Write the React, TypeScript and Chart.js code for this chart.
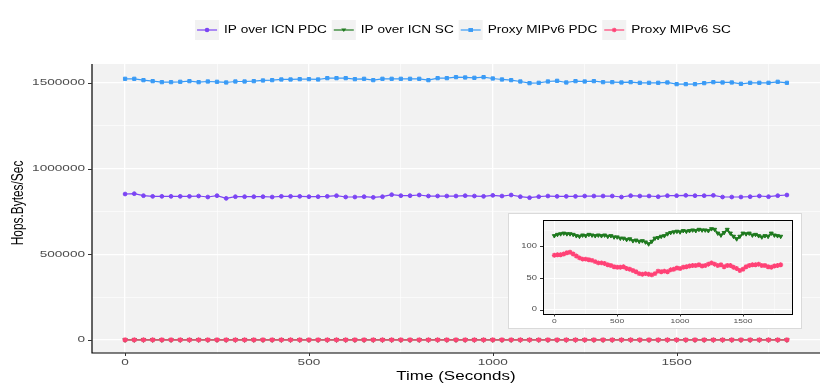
import React, { useEffect, useRef } from "react";
import { Chart, registerables } from "chart.js";
Chart.register(...registerables);

const timeSeconds = [
  0, 25, 50, 75, 100, 125, 150, 175, 200, 225,
  250, 275, 300, 325, 350, 375, 400, 425, 450, 475,
  500, 525, 550, 575, 600, 625, 650, 675, 700, 725,
  750, 775, 800, 825, 850, 875, 900, 925, 950, 975,
  1000, 1025, 1050, 1075, 1100, 1125, 1150, 1175, 1200, 1225,
  1250, 1275, 1300, 1325, 1350, 1375, 1400, 1425, 1450, 1475,
  1500, 1525, 1550, 1575, 1600, 1625, 1650, 1675, 1700, 1725,
  1750, 1775, 1800,
];

const ipIcnPdc = [
  851200, 853100, 841500, 837600, 837600, 837600, 837600, 837600, 839500, 833700,
  841500, 825900, 835600, 835600, 835600, 835600, 833700, 837600, 837600, 837600,
  835600, 835600, 837600, 841500, 833700, 833700, 835600, 831700, 835600, 847300,
  841500, 841500, 845400, 839500, 839500, 839500, 839500, 841500, 839500, 837600,
  843400, 839500, 845400, 835600, 829800, 835600, 839500, 837600, 837600, 837600,
  839500, 839500, 839500, 839500, 833700, 841500, 839500, 839500, 835600, 841500,
  841500, 843400, 841500, 841500, 843400, 833700, 833700, 833700, 835600, 839500,
  835600, 841500, 845400,
];

const ipIcnSc = [
  117, 119, 120, 121, 120, 120, 119, 117, 116, 118,
  117, 119, 118, 117, 118, 117, 118, 116, 117, 115,
  115, 113, 113, 111, 112, 109, 110, 108, 109, 107,
  104, 108, 113, 114, 116, 117, 120, 122, 123, 124,
  123, 125, 124, 125, 126, 125, 127, 126, 126, 125,
  128, 127, 121, 118, 122, 127, 121, 116, 112, 116,
  121, 120, 121, 118, 119, 117, 115, 117, 116, 121,
  118, 117, 116,
];

const proxyPdc = [
  1523600, 1523600, 1515800, 1510000, 1504100, 1504100, 1506100, 1510000, 1504100, 1508000,
  1506100, 1502200, 1508000, 1508000, 1510000, 1513900, 1515800, 1519700, 1519700, 1521600,
  1521600, 1519700, 1527500, 1527500, 1527500, 1521600, 1523600, 1515800, 1523600, 1523600,
  1523600, 1523600, 1523600, 1515800, 1527500, 1527500, 1533300, 1531400, 1529400, 1533300,
  1525500, 1519700, 1515800, 1508000, 1498300, 1500200, 1508000, 1511900, 1502200, 1510000,
  1508000, 1510000, 1504100, 1504100, 1502200, 1504100, 1500200, 1500200, 1500200, 1502200,
  1492500, 1492500, 1492500, 1498300, 1504100, 1502200, 1502200, 1494400, 1500200, 1500200,
  1500200, 1506100, 1500200,
];

const proxySc = [
  86, 87, 87, 88, 90, 91, 88, 85, 82, 80,
  80, 79, 78, 76, 74, 74, 73, 71, 70, 68,
  67, 67, 68, 65, 64, 62, 60, 57, 56, 57,
  56, 55, 57, 61, 60, 61, 60, 63, 64, 66,
  65, 67, 68, 69, 70, 70, 71, 69, 70, 72,
  74, 72, 70, 71, 68, 70, 70, 67, 65, 62,
  64, 68, 70, 71, 71, 72, 70, 70, 68, 67,
  69, 70, 71,
];

const seriesNames = ["IP over ICN PDC", "IP over ICN SC", "Proxy MIPv6 PDC", "Proxy MIPv6 SC"];
const seriesColors = ["#7C45F4", "#1F7A1F", "#3A9BF6", "#FF4276"];
const seriesMarkers = ["circle", "triangleDown", "rect", "star"];

const mainXMajor = [0, 500, 1000, 1500];
const mainXMinor = [250, 750, 1250, 1750];
const mainXLabels = ["0", "500", "1000", "1500"];
const mainYMajor = [0, 500000, 1000000, 1500000];
const mainYMinor = [250000, 750000, 1250000];
const mainYLabels = ["0", "500000", "1000000", "1500000"];

const insetXMajor = [0, 500, 1000, 1500];
const insetXMinor = [250, 750, 1250, 1750];
const insetXLabels = ["0", "500", "1000", "1500"];
const insetYMajor = [0, 50, 100];
const insetYMinor = [25, 75, 125];
const insetYLabels = ["0", "50", "100"];

const xTitle = "Time (Seconds)";
const yTitle = "Hops.Bytes/Sec";

const FONT = '"Liberation Sans", Arial, Helvetica, sans-serif';
const PANEL_BG = "#F2F2F2";
const SQUASH = 0.7;

function drawLabel(
  ctx: CanvasRenderingContext2D,
  text: string,
  x: number,
  y: number,
  size: number,
  color: string,
  align: CanvasTextAlign,
  squash: number,
  rotate = false
) {
  ctx.save();
  ctx.translate(x, y);
  if (rotate) {
    ctx.rotate(-Math.PI / 2);
    ctx.scale(squash, 1);
  } else {
    ctx.scale(1, squash);
  }
  ctx.font = `${size}px ${FONT}`;
  ctx.fillStyle = color;
  ctx.textAlign = align;
  ctx.textBaseline = "middle";
  ctx.fillText(text, 0, 0);
  ctx.restore();
}

function drawMarker(ctx: CanvasRenderingContext2D, style: string, x: number, y: number, r: number, color: string) {
  ctx.save();
  ctx.fillStyle = color;
  ctx.strokeStyle = color;
  ctx.lineWidth = 1.1;
  ctx.beginPath();
  if (style === "circle") {
    ctx.arc(x, y, r, 0, Math.PI * 2);
    ctx.fill();
  } else if (style === "rect") {
    ctx.rect(x - r, y - r * 0.85, 2 * r, 1.7 * r);
    ctx.fill();
  } else if (style === "triangleDown") {
    ctx.moveTo(x - r * 1.1, y - r * 0.7);
    ctx.lineTo(x + r * 1.1, y - r * 0.7);
    ctx.lineTo(x, y + r * 0.9);
    ctx.closePath();
    ctx.fill();
  } else {
    for (let k = 0; k < 4; k++) {
      const a = (k * Math.PI) / 4;
      ctx.moveTo(x - Math.cos(a) * r, y - Math.sin(a) * r);
      ctx.lineTo(x + Math.cos(a) * r, y + Math.sin(a) * r);
    }
    ctx.stroke();
  }
  ctx.restore();
}

function pairs(vals: number[]) {
  return timeSeconds.map((t, i) => ({ x: t, y: vals[i] }));
}

function styleFor(idx: number, scale: number, lineW: number) {
  const m = seriesMarkers[idx];
  const base: any = {
    borderColor: seriesColors[idx],
    backgroundColor: seriesColors[idx],
    pointBackgroundColor: seriesColors[idx],
    pointBorderColor: seriesColors[idx],
    borderWidth: lineW,
    tension: 0,
  };
  if (m === "circle") Object.assign(base, { pointStyle: "circle", pointRadius: 1.8 * scale, pointBorderWidth: 1 });
  if (m === "rect") Object.assign(base, { pointStyle: "rect", pointRadius: 2.2 * scale, pointBorderWidth: 1 });
  if (m === "triangleDown")
    Object.assign(base, { pointStyle: "triangle", pointRotation: 180, pointRadius: 2.4 * scale, pointBorderWidth: 1 });
  if (m === "star") Object.assign(base, { pointStyle: "star", pointRadius: 2.6 * scale, pointBorderWidth: 1.3 });
  return base;
}

function gridScale(min: number, max: number, major: number[], minor: number[], majorW: number, minorW: number) {
  const all = [...major, ...minor].sort((a, b) => a - b);
  return {
    type: "linear" as const,
    min,
    max,
    afterBuildTicks: (scale: any) => {
      scale.ticks = all.map((v) => ({ value: v }));
    },
    ticks: { display: false },
    border: { display: false },
    grid: {
      color: "#FFFFFF",
      drawTicks: false,
      lineWidth: (c: any) => (major.includes(c.tick?.value) ? majorW : minorW),
    },
  };
}

const mainDecor = {
  id: "mainDecor",
  beforeDraw(chart: any) {
    const { ctx, chartArea: a } = chart;
    ctx.save();
    ctx.fillStyle = "#FFFFFF";
    ctx.fillRect(0, 0, chart.width, chart.height);
    ctx.fillStyle = PANEL_BG;
    ctx.fillRect(a.left, a.top, a.right - a.left, a.bottom - a.top);
    ctx.restore();
  },
  afterDraw(chart: any) {
    const { ctx, chartArea: a, scales } = chart;
    const x = scales.x;
    const y = scales.y;
    ctx.save();
    ctx.strokeStyle = "#000000";
    ctx.lineWidth = 1.2;
    ctx.beginPath();
    ctx.moveTo(a.left, a.top);
    ctx.lineTo(a.left, a.bottom);
    ctx.lineTo(a.right, a.bottom);
    ctx.stroke();
    ctx.strokeStyle = "#333333";
    ctx.lineWidth = 1;
    ctx.beginPath();
    mainYMajor.forEach((v) => {
      const py = Math.round(y.getPixelForValue(v)) + 0.5;
      ctx.moveTo(a.left - 4, py);
      ctx.lineTo(a.left, py);
    });
    mainXMajor.forEach((v) => {
      const px = Math.round(x.getPixelForValue(v)) + 0.5;
      ctx.moveTo(px, a.bottom);
      ctx.lineTo(px, a.bottom + 3);
    });
    ctx.stroke();
    ctx.restore();

    mainYMajor.forEach((v, i) => {
      drawLabel(ctx, mainYLabels[i], a.left - 7, y.getPixelForValue(v), 13.6, "#4D4D4D", "right", SQUASH);
    });
    mainXMajor.forEach((v, i) => {
      drawLabel(ctx, mainXLabels[i], x.getPixelForValue(v), a.bottom + 9, 13.6, "#4D4D4D", "center", SQUASH);
    });
    drawLabel(ctx, xTitle, (a.left + a.right) / 2, 377, 17, "#000000", "center", SQUASH);
    drawLabel(ctx, yTitle, 18, 203, 17, "#000000", "center", SQUASH, true);

    // legend
    ctx.save();
    ctx.font = `13.6px ${FONT}`;
    const widths = seriesNames.map((n) => ctx.measureText(n).width);
    ctx.restore();
    const keyW = 24;
    const keyH = 20;
    const gapText = 5;
    const gapItem = 5;
    const total = widths.reduce((s, w) => s + keyW + gapText + w + gapItem, 0) - gapItem;
    let cx = 463 - total / 2;
    const cy = 30;
    seriesNames.forEach((n, i) => {
      ctx.save();
      ctx.fillStyle = PANEL_BG;
      ctx.fillRect(cx, cy - keyH / 2, keyW, keyH);
      ctx.strokeStyle = seriesColors[i];
      ctx.lineWidth = 1.2;
      ctx.beginPath();
      ctx.moveTo(cx + 2, cy);
      ctx.lineTo(cx + keyW - 2, cy);
      ctx.stroke();
      ctx.restore();
      drawMarker(ctx, seriesMarkers[i], cx + keyW / 2, cy, 2.3, seriesColors[i]);
      drawLabel(ctx, n, cx + keyW + gapText, cy, 13.6, "#000000", "left", 0.8);
      cx += keyW + gapText + widths[i] + gapItem;
    });
  },
};

const insetDecor = {
  id: "insetDecor",
  beforeDraw(chart: any) {
    const { ctx, chartArea: a } = chart;
    ctx.save();
    ctx.fillStyle = "#FFFFFF";
    ctx.fillRect(0, 0, chart.width, chart.height);
    ctx.strokeStyle = "#DADADA";
    ctx.lineWidth = 1;
    ctx.strokeRect(0.5, 0.5, chart.width - 1, chart.height - 1);
    ctx.fillStyle = PANEL_BG;
    ctx.fillRect(a.left, a.top, a.right - a.left, a.bottom - a.top);
    ctx.restore();
  },
  afterDraw(chart: any) {
    const { ctx, chartArea: a, scales } = chart;
    const x = scales.x;
    const y = scales.y;
    ctx.save();
    ctx.strokeStyle = "#000000";
    ctx.lineWidth = 1;
    ctx.strokeRect(Math.round(a.left) + 0.5, Math.round(a.top) + 0.5, Math.round(a.right - a.left), Math.round(a.bottom - a.top));
    ctx.strokeStyle = "#333333";
    ctx.beginPath();
    insetYMajor.forEach((v) => {
      const py = Math.round(y.getPixelForValue(v)) + 0.5;
      ctx.moveTo(a.left - 3, py);
      ctx.lineTo(a.left, py);
    });
    insetXMajor.forEach((v) => {
      const px = Math.round(x.getPixelForValue(v)) + 0.5;
      ctx.moveTo(px, a.bottom);
      ctx.lineTo(px, a.bottom + 2.5);
    });
    ctx.stroke();
    ctx.restore();
    insetYMajor.forEach((v, i) => {
      drawLabel(ctx, insetYLabels[i], a.left - 6, y.getPixelForValue(v), 9.4, "#4D4D4D", "right", SQUASH);
    });
    insetXMajor.forEach((v, i) => {
      drawLabel(ctx, insetXLabels[i], x.getPixelForValue(v), a.bottom + 7, 8.5, "#4D4D4D", "center", SQUASH);
    });
  },
};

export default function App() {
  const mainRef = useRef<HTMLCanvasElement>(null);
  const insetRef = useRef<HTMLCanvasElement>(null);

  useEffect(() => {
    const allSeries = [ipIcnPdc, ipIcnSc, proxyPdc, proxySc];
    const main = new Chart(mainRef.current as HTMLCanvasElement, {
      type: "line",
      data: {
        datasets: allSeries.map((vals, i) => ({
          label: seriesNames[i],
          data: pairs(vals),
          order: 3 - i,
          ...styleFor(i, 1.05, 1.2),
        })),
      },
      options: {
        animation: false,
        responsive: false,
        events: [],
        layout: { padding: { left: 92, right: 10, top: 64, bottom: 35 } },
        plugins: { legend: { display: false }, tooltip: { enabled: false } },
        scales: {
          x: gridScale(-90, 1890, mainXMajor, mainXMinor, 1.3, 0.6),
          y: gridScale(-76600, 1610000, mainYMajor, mainYMinor, 1.3, 0.6),
        },
      } as any,
      plugins: [mainDecor],
    });

    const insetSeries = [1, 3];
    const inset = new Chart(insetRef.current as HTMLCanvasElement, {
      type: "line",
      data: {
        datasets: insetSeries.map((idx, k) => ({
          label: seriesNames[idx],
          data: pairs(allSeries[idx]),
          order: 1 - k,
          ...styleFor(idx, 0.95, 1.6),
        })),
      },
      options: {
        animation: false,
        responsive: false,
        events: [],
        layout: { padding: { left: 35, right: 10, top: 7, bottom: 15 } },
        plugins: { legend: { display: false }, tooltip: { enabled: false } },
        scales: {
          x: gridScale(-90, 1890, insetXMajor, insetXMinor, 1, 0.5),
          y: gridScale(-7, 142, insetYMajor, insetYMinor, 1, 0.5),
        },
      } as any,
      plugins: [insetDecor],
    });

    return () => {
      main.destroy();
      inset.destroy();
    };
  }, []);

  return (
    <div style={{ position: "fixed", left: 0, top: 0, width: 830, height: 388, background: "#FFFFFF" }}>
      <canvas ref={mainRef} width={830} height={388} style={{ position: "absolute", left: 0, top: 0 }} />
      <canvas ref={insetRef} width={294} height={116} style={{ position: "absolute", left: 508, top: 213 }} />
    </div>
  );
}
